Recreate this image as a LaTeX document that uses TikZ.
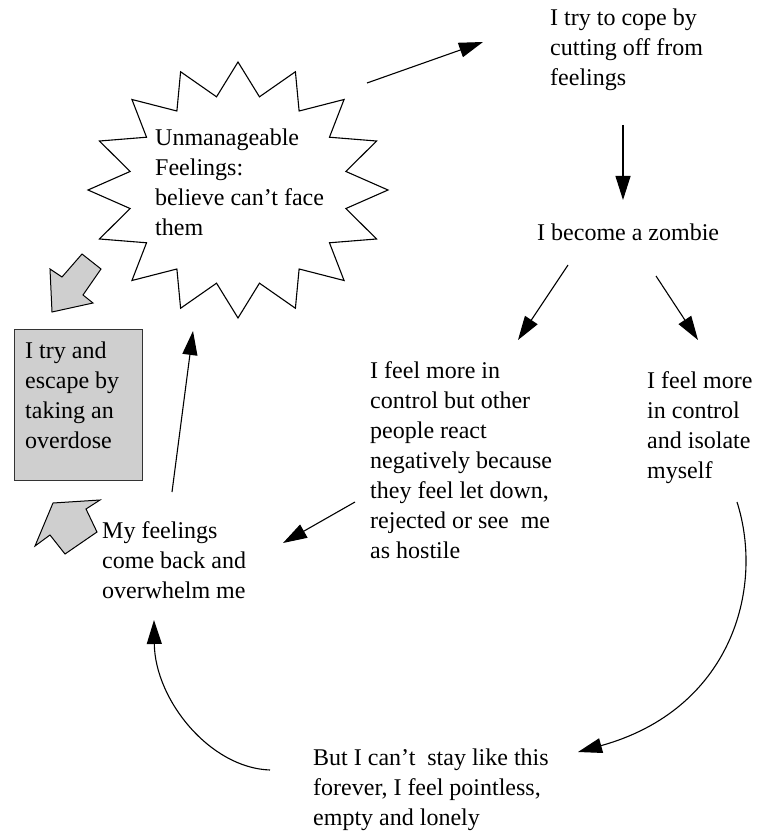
\documentclass[tikz,border=0pt]{standalone}
\usepackage{fontspec}
\setmainfont{Liberation Serif}
\usetikzlibrary{arrows.meta}
\definecolor{boxgrey}{HTML}{CFCFCF}
\begin{document}
\begin{tikzpicture}[x=1pt,y=-1pt,
  txt/.style={anchor=north west, inner sep=0pt, align=left,
              font=\fontsize{24}{30}\selectfont},
  link/.style={line width=1.1pt, -{Triangle[length=24pt,width=15pt]}},
  blockarrow/.style={draw=black, line width=1pt, fill=boxgrey, line join=miter},
  outline/.style={draw=black, line width=1.1pt, line join=miter},
]
\useasboundingbox (0,0) rectangle (760,834);

% sixteen-point starburst
\draw[outline, fill=white] (238,62)
  \foreach \i [evaluate=\i as \rx using {isodd(\i)?110:150},
               evaluate=\i as \ry using {isodd(\i)?95:128}] in {1,...,31}
  { -- ({238+\rx*cos(90+11.25*\i)},{190-\ry*sin(90+11.25*\i)}) } -- cycle;

% text blocks
\node[txt] (burst) at (155,124.5) {\strut Unmanageable\\Feelings:\\believe can’t face\\them};
\node[txt] (cope) at (550,4.5) {\strut I try to cope by\\cutting off from\\feelings};
\node[txt] (zombie) at (537,219.5) {\strut I become a zombie};
\node[txt] (others) at (370,357.5) {\strut I feel more in\\control but other\\people react\\negatively because\\they feel let down,\\rejected or see\ \ me\\as hostile};
\node[txt] (isolate) at (647,367.5) {\strut I feel more\\in control\\and isolate\\myself};
\node[txt] (back) at (102,517.5) {\strut My feelings\\come back and\\overwhelm me};
\node[txt] (lonely) at (313,744.5) {\strut But I can’t\ \ stay like this\\forever, I feel pointless,\\empty and lonely};

% grey box
\node[draw=black!80, line width=1pt, fill=boxgrey, anchor=north west,
      minimum width=128pt, minimum height=151pt, inner sep=0pt] (overdose) at (14,329) {};
\node[txt] (overdosetext) at (25,337.5) {\strut I try and\\escape by\\taking an\\overdose};

% grey block arrows
\draw[blockarrow] (52,312) -- (50,269) -- (62,277) -- (82,254) -- (101,269) -- (83,295) -- (93,303) -- cycle;
\draw[blockarrow] (53,503) -- (100,500) -- (86,509) -- (97,532) -- (65,554) -- (50,535) -- (35,546) -- cycle;

% connector end points
\coordinate (b1) at (367,83);   \coordinate (c1) at (483,42);
\coordinate (c2) at (623,125);  \coordinate (z1) at (623,200);
\coordinate (z2) at (568,265);  \coordinate (o1) at (518,340);
\coordinate (z3) at (656,276);  \coordinate (i1) at (698,340);
\coordinate (o2) at (355,502);  \coordinate (k1) at (283,543);
\coordinate (k2) at (172,492);  \coordinate (b2) at (193,331);
\coordinate (i2) at (737,502);  \coordinate (l1) at (578,752);
\coordinate (l2) at (270,770);  \coordinate (k3) at (154,620);

% connectors
\draw[link] (b1) -- (c1);
\draw[link] (c2) -- (z1);
\draw[link] (z2) -- (o1);
\draw[link] (z3) -- (i1);
\draw[link] (o2) -- (k1);
\draw[link] (k2) -- (b2);
\draw[link] (i2) .. controls (765,590) and (730,710) .. (l1);
\draw[link] (l2) .. controls (210,768) and (155,700) .. (k3);
\end{tikzpicture}
\end{document}
